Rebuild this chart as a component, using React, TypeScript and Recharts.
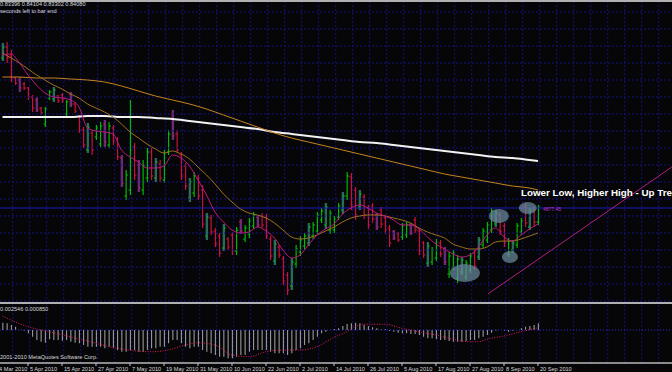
import React from "react";
import { ComposedChart, Bar, Line, XAxis, YAxis, ReferenceLine, ReferenceDot } from "recharts";

// ---------- data (daily bars, 24 Mar 2010 .. 20 Sep 2010) ----------
const highs = [
  1.007, 1.008, 1.0, 0.973, 0.973, 0.968, 0.963, 0.955, 0.953, 0.943,
  0.943, 0.96, 0.963, 0.955, 0.957, 0.95, 0.958, 0.948, 0.935, 0.923,
  0.927, 0.92, 0.925, 0.928, 0.93, 0.928, 0.925, 0.913, 0.895, 0.88,
  0.95, 0.907, 0.89, 0.89, 0.902, 0.902, 0.892, 0.89, 0.9, 0.92,
  0.94, 0.92, 0.898, 0.887, 0.872, 0.878, 0.875, 0.865, 0.837, 0.835,
  0.822, 0.817, 0.826, 0.813, 0.818, 0.823, 0.831, 0.825, 0.832, 0.838,
  0.835, 0.837, 0.836, 0.814, 0.81, 0.805, 0.794, 0.778, 0.792, 0.805,
  0.814, 0.817, 0.827, 0.828, 0.838, 0.842, 0.847, 0.84, 0.834, 0.847,
  0.858, 0.878, 0.877, 0.863, 0.86, 0.856, 0.845, 0.847, 0.837, 0.843,
  0.835, 0.825, 0.82, 0.818, 0.827, 0.828, 0.827, 0.833, 0.822, 0.809,
  0.808, 0.803, 0.811, 0.81, 0.803, 0.798, 0.8, 0.795, 0.793, 0.79,
  0.797, 0.8, 0.813, 0.822, 0.828, 0.842, 0.84, 0.838, 0.827, 0.812,
  0.81, 0.827, 0.832, 0.847, 0.842, 0.843, 0.845,
];
const lows = [
  0.989, 0.987, 0.968, 0.965, 0.958, 0.96, 0.95, 0.938, 0.938, 0.935,
  0.923, 0.95, 0.948, 0.947, 0.947, 0.933, 0.943, 0.937, 0.917, 0.902,
  0.897, 0.895, 0.91, 0.903, 0.903, 0.902, 0.905, 0.89, 0.863, 0.85,
  0.855, 0.87, 0.858, 0.855, 0.868, 0.87, 0.868, 0.868, 0.867, 0.895,
  0.91, 0.897, 0.87, 0.86, 0.848, 0.853, 0.85, 0.822, 0.81, 0.815,
  0.803, 0.793, 0.799, 0.8, 0.795, 0.795, 0.816, 0.808, 0.812, 0.821,
  0.823, 0.822, 0.811, 0.79, 0.785, 0.792, 0.765, 0.755, 0.76, 0.782,
  0.794, 0.801, 0.804, 0.811, 0.816, 0.827, 0.821, 0.816, 0.817, 0.83,
  0.836, 0.85, 0.84, 0.83, 0.84, 0.831, 0.821, 0.827, 0.82, 0.822,
  0.816, 0.803, 0.81, 0.808, 0.81, 0.812, 0.815, 0.817, 0.795, 0.792,
  0.783, 0.785, 0.789, 0.793, 0.785, 0.772, 0.78, 0.767, 0.775, 0.77,
  0.777, 0.78, 0.79, 0.802, 0.807, 0.817, 0.823, 0.815, 0.803, 0.793,
  0.797, 0.802, 0.815, 0.823, 0.82, 0.823, 0.825,
];
const opens = [
  0.992, 1.003, 0.994, 0.972, 0.97, 0.966, 0.962, 0.953, 0.95, 0.942,
  0.926, 0.952, 0.951, 0.954, 0.955, 0.936, 0.956, 0.946, 0.933, 0.92,
  0.9, 0.917, 0.913, 0.906, 0.926, 0.905, 0.922, 0.911, 0.892, 0.854,
  0.86, 0.903, 0.885, 0.86, 0.872, 0.898, 0.872, 0.886, 0.87, 0.898,
  0.936, 0.916, 0.895, 0.884, 0.852, 0.857, 0.872, 0.86, 0.814, 0.832,
  0.819, 0.814, 0.802, 0.811, 0.815, 0.799, 0.828, 0.811, 0.816, 0.824,
  0.833, 0.834, 0.833, 0.811, 0.789, 0.803, 0.791, 0.775, 0.764, 0.786,
  0.798, 0.804, 0.807, 0.814, 0.819, 0.83, 0.825, 0.82, 0.82, 0.833,
  0.84, 0.854, 0.873, 0.86, 0.843, 0.853, 0.842, 0.844, 0.835, 0.84,
  0.832, 0.822, 0.818, 0.816, 0.813, 0.815, 0.825, 0.83, 0.819, 0.807,
  0.787, 0.788, 0.792, 0.807, 0.8, 0.776, 0.783, 0.771, 0.778, 0.773,
  0.78, 0.797, 0.793, 0.805, 0.81, 0.82, 0.826, 0.835, 0.824, 0.796,
  0.8, 0.805, 0.818, 0.844, 0.823, 0.84, 0.828,
];
const closes = [
  1.003, 0.992, 0.972, 0.967, 0.962, 0.962, 0.953, 0.942, 0.94, 0.937,
  0.941, 0.958, 0.96, 0.949, 0.95, 0.948, 0.946, 0.939, 0.92, 0.905,
  0.923, 0.9, 0.922, 0.924, 0.908, 0.924, 0.909, 0.893, 0.867, 0.875,
  0.9, 0.875, 0.862, 0.884, 0.898, 0.874, 0.888, 0.872, 0.896, 0.916,
  0.914, 0.9, 0.874, 0.864, 0.868, 0.874, 0.854, 0.826, 0.833, 0.818,
  0.806, 0.797, 0.822, 0.803, 0.799, 0.82, 0.819, 0.822, 0.829, 0.835,
  0.825, 0.825, 0.814, 0.794, 0.806, 0.795, 0.769, 0.76, 0.788, 0.801,
  0.81, 0.814, 0.823, 0.825, 0.835, 0.839, 0.843, 0.837, 0.831, 0.844,
  0.854, 0.874, 0.845, 0.835, 0.856, 0.835, 0.825, 0.831, 0.823, 0.826,
  0.82, 0.807, 0.812, 0.81, 0.824, 0.825, 0.817, 0.82, 0.799, 0.795,
  0.804, 0.8, 0.808, 0.796, 0.788, 0.794, 0.797, 0.791, 0.79, 0.787,
  0.794, 0.784, 0.81, 0.819, 0.825, 0.839, 0.837, 0.819, 0.807, 0.809,
  0.807, 0.824, 0.829, 0.827, 0.839, 0.828, 0.843,
];

// moving averages read at sampled bars: [barIndex, value]
const maShort: [number, number][] = [
  [0, 0.995], [2, 0.996], [4, 0.987], [6, 0.975], [8, 0.965], [10, 0.957], [12, 0.953], [14, 0.952],
  [16, 0.95], [18, 0.943], [20, 0.922], [22, 0.919], [24, 0.918], [26, 0.916], [28, 0.9], [30, 0.893],
  [32, 0.888], [34, 0.882], [36, 0.882], [38, 0.884], [40, 0.895], [42, 0.892], [44, 0.884], [46, 0.87],
  [48, 0.855], [50, 0.838], [52, 0.828], [54, 0.82], [56, 0.817], [58, 0.818], [60, 0.823], [62, 0.819],
  [64, 0.812], [66, 0.8], [68, 0.792], [70, 0.795], [72, 0.805], [74, 0.815], [76, 0.821], [78, 0.826],
  [80, 0.836], [82, 0.842], [84, 0.845], [86, 0.842], [88, 0.837], [90, 0.834], [92, 0.83], [94, 0.825],
  [96, 0.825], [98, 0.821], [100, 0.813], [102, 0.806], [104, 0.801], [106, 0.796], [108, 0.793], [110, 0.795],
  [112, 0.803], [114, 0.815], [116, 0.822], [118, 0.813], [120, 0.809], [122, 0.815], [124, 0.821], [126, 0.826],
];
const maMid: [number, number][] = [
  [0, 0.997], [2, 0.992], [4, 0.987], [6, 0.981], [8, 0.975], [10, 0.97], [12, 0.965], [14, 0.961],
  [16, 0.956], [18, 0.952], [20, 0.946], [22, 0.942], [24, 0.938], [26, 0.933], [28, 0.926], [30, 0.918],
  [32, 0.912], [34, 0.906], [36, 0.901], [38, 0.897], [40, 0.899], [42, 0.896], [44, 0.891], [46, 0.883],
  [48, 0.875], [50, 0.866], [52, 0.856], [54, 0.848], [56, 0.841], [58, 0.837], [60, 0.835], [62, 0.832],
  [64, 0.827], [66, 0.82], [68, 0.813], [70, 0.811], [72, 0.812], [74, 0.815], [76, 0.819], [78, 0.823],
  [80, 0.828], [82, 0.832], [84, 0.834], [86, 0.835], [88, 0.835], [90, 0.834], [92, 0.832], [94, 0.83],
  [96, 0.827], [98, 0.822], [100, 0.818], [102, 0.815], [104, 0.812], [106, 0.806], [108, 0.803], [110, 0.801],
  [112, 0.801], [114, 0.803], [116, 0.808], [118, 0.809], [120, 0.809], [122, 0.811], [124, 0.814], [126, 0.817],
];
const maLong: [number, number][] = [
  [0, 0.973], [4, 0.973], [8, 0.972], [12, 0.972], [16, 0.971], [20, 0.97], [24, 0.968], [28, 0.964],
  [32, 0.959], [36, 0.954], [40, 0.95], [44, 0.946], [48, 0.941], [52, 0.935], [56, 0.929], [60, 0.923],
  [64, 0.917], [68, 0.912], [72, 0.908], [76, 0.904], [80, 0.9], [84, 0.896], [88, 0.892], [92, 0.888],
  [96, 0.884], [100, 0.88], [104, 0.876], [108, 0.873], [112, 0.87], [116, 0.867], [120, 0.864], [124, 0.862],
  [126, 0.86],
];
const maWhite: [number, number][] = [
  [0, 0.933], [4, 0.933], [8, 0.933], [12, 0.933], [16, 0.933], [20, 0.934], [24, 0.934], [28, 0.933],
  [32, 0.933], [36, 0.932], [40, 0.931], [44, 0.929], [48, 0.927], [52, 0.925], [56, 0.923], [60, 0.921],
  [64, 0.918], [68, 0.916], [72, 0.914], [76, 0.912], [80, 0.91], [84, 0.908], [88, 0.907], [92, 0.905],
  [96, 0.903], [100, 0.901], [104, 0.899], [108, 0.897], [112, 0.895], [116, 0.893], [120, 0.892], [124, 0.89],
  [126, 0.889],
];

// MACD sub-window
const macdHist = [
  0.0029, 0.0027, 0.002, 0.0013, 0.0001, -0.0003, -0.0013, -0.0027, -0.004, -0.0047,
  -0.0051, -0.0037, -0.004, -0.004, -0.0043, -0.004, -0.0047, -0.0051, -0.0053, -0.006,
  -0.0067, -0.0067, -0.0067, -0.0067, -0.0073, -0.0067, -0.0073, -0.008, -0.0087, -0.0087,
  -0.008, -0.008, -0.0087, -0.0087, -0.008, -0.0073, -0.0073, -0.0067, -0.0067, -0.0053,
  -0.004, -0.004, -0.0053, -0.0067, -0.0073, -0.0067, -0.0067, -0.008, -0.0087, -0.0093,
  -0.01, -0.0107, -0.0107, -0.0113, -0.0113, -0.0107, -0.01, -0.01, -0.0087, -0.008,
  -0.008, -0.008, -0.008, -0.0087, -0.0093, -0.0093, -0.0093, -0.01, -0.0093, -0.008,
  -0.0073, -0.006, -0.0053, -0.004, -0.0027, -0.0013, -0.0007, 0.0, 0.0004, 0.0007,
  0.0016, 0.0024, 0.0027, 0.0029, 0.0027, 0.002, 0.0016, 0.0011, 0.0007, 0.0003,
  0.0003, -0.0003, -0.0007, -0.0011, -0.0013, -0.0013, -0.0016, -0.0016, -0.002, -0.0027,
  -0.0033, -0.0033, -0.0037, -0.004, -0.004, -0.0044, -0.0047, -0.0047, -0.0047, -0.0044,
  -0.004, -0.004, -0.0033, -0.0027, -0.002, -0.0011, -0.0003, 0.0, -0.0003, -0.0007,
  -0.0003, 0.0, 0.0007, 0.0013, 0.0016, 0.002, 0.0027,
];
const macdSignal: [number, number][] = [
  [0, 0.0056], [6, 0.0013], [11, -0.0007], [19, -0.004], [27, -0.0073], [35, -0.0087], [39, -0.008],
  [43, -0.006], [46, -0.0051], [50, -0.006], [54, -0.01], [58, -0.0107], [62, -0.0087], [66, -0.008],
  [70, -0.008], [74, -0.0067], [78, -0.0029], [81, -0.0007], [83, 0.0013], [85, 0.0023], [90, 0.0023],
  [94, 0.0007], [98, -0.0007], [102, -0.002], [106, -0.0037], [110, -0.0047], [112, -0.0047],
  [114, -0.0037], [118, -0.0024], [122, -0.0007], [126, 0.0009],
];

const dateTickIdx = [-2, 6, 14, 22, 30, 38, 46, 54, 62, 70, 78, 86, 94, 102, 110, 118, 126];
const dateTickLabels = [
  "24 Mar 2010", "5 Apr 2010", "15 Apr 2010", "27 Apr 2010", "7 May 2010", "19 May 2010",
  "31 May 2010", "10 Jun 2010", "22 Jun 2010", "2 Jul 2010", "14 Jul 2010", "26 Jul 2010",
  "5 Aug 2010", "17 Aug 2010", "27 Aug 2010", "8 Sep 2010", "20 Sep 2010",
];
const priceGrid = [
  1.038, 1.021, 1.004, 0.987, 0.97, 0.953, 0.936, 0.919, 0.902, 0.885, 0.868, 0.851, 0.834, 0.817,
  0.8, 0.783, 0.766, 0.749,
];
const hLine = 0.842;
const trendLine = [
  { x: 114.2, y: 0.756 },
  { x: 157.5, y: 0.883 },
];
const ellipses = [
  { i: 108.8, p: 0.777, rx: 15, ry: 9 },
  { i: 119.4, p: 0.793, rx: 8, ry: 6 },
  { i: 116.8, p: 0.834, rx: 10, ry: 7 },
  { i: 123.6, p: 0.842, rx: 9, ry: 6 },
];

// ---------- build tables ----------
const lookup = (pts: [number, number][]) => {
  const m = new Map<number, number>();
  pts.forEach(([k, v]) => m.set(k, v));
  return m;
};
const mS = lookup(maShort), mM = lookup(maMid), mL = lookup(maLong), mW = lookup(maWhite), sg = lookup(macdSignal);

const rows = highs.map((h, i) => ({
  i,
  range: [lows[i], h],
  o: opens[i], h, l: lows[i], c: closes[i],
  maS: mS.has(i) ? mS.get(i) : null,
  maM: mM.has(i) ? mM.get(i) : null,
  maL: mL.has(i) ? mL.get(i) : null,
  maW: mW.has(i) ? mW.get(i) : null,
  hist: macdHist[i],
  sig: sg.has(i) ? sg.get(i) : null,
}));

const X_DOMAIN: [number, number] = [-0.588, 157.53];
const vGrid: number[] = [];
for (let g = 2.4; g < 158; g += 4) vGrid.push(g);

const GRID = "#12127a";
const FONT = "'Liberation Sans', Arial, sans-serif";

const OhlcShape = (props: any) => {
  const { x, y, width, height, payload } = props;
  if (payload == null || !isFinite(y)) return null;
  const { o, h, l, c, i } = payload;
  const top = Math.min(y, y + height);
  const hh = Math.abs(height);
  const cx = x + width / 2;
  const span = h - l || 1;
  const py = (v: number) => top + ((h - v) / span) * hh;
  const up = c >= o;
  const onGrid = i % 4 === 0;
  const col = onGrid ? (up ? "#2a6a5c" : "#6a2a78") : up ? "#00c800" : "#d8143c";
  const tick = up ? "#00c800" : "#d8143c";
  return (
    <g>
      <line x1={cx} x2={cx} y1={top} y2={top + hh} stroke={col} strokeWidth={onGrid ? 2.4 : 1.1} />
      <line x1={cx - 1.8} x2={cx} y1={py(o)} y2={py(o)} stroke={tick} strokeWidth={1} />
      <line x1={cx} x2={cx + 1.8} y1={py(c)} y2={py(c)} stroke={tick} strokeWidth={1} />
    </g>
  );
};

const HistShape = (props: any) => {
  const { x, y, width, height } = props;
  if (!isFinite(y)) return null;
  const cx = x + width / 2;
  return <line x1={cx} x2={cx} y1={y} y2={y + height} stroke="#a8a8a8" strokeWidth={1} />;
};

const EllipseShape = (rx: number, ry: number) => (props: any) => (
  <ellipse cx={props.cx} cy={props.cy} rx={rx} ry={ry} fill="#6a8a9c" fillOpacity={0.72} />
);

const DateTick = (props: any) => {
  const { x, y, payload } = props;
  const k = dateTickIdx.indexOf(payload.value);
  return (
    <g>
      <line x1={x} x2={x} y1={y} y2={y + 3} stroke="#c8c8c8" strokeWidth={1} />
      <text x={x + 2} y={y + 8} fontSize={5.6} fill="#d8d8d8" fontFamily={FONT}>
        {k >= 0 ? dateTickLabels[k] : ""}
      </text>
    </g>
  );
};

const txt = (left: number, top: number, s: string, extra: any = {}) => (
  <div
    style={{
      position: "absolute", left, top, fontFamily: FONT, fontSize: 5.6, color: "#d8d8d8",
      whiteSpace: "nowrap", lineHeight: 1, ...extra,
    }}
  >
    {s}
  </div>
);

export default function App() {
  return (
    <div style={{ position: "relative", width: 672, height: 372, background: "#060608", overflow: "hidden" }}>
      <style>{"body{margin:0;background:#000}"}</style>
      <div style={{ position: "absolute", left: 0, top: 0 }}>
        <ComposedChart width={672} height={303} data={rows} margin={{ top: 0, right: 0, bottom: 0, left: 0 }}>
          <XAxis dataKey="i" type="number" domain={X_DOMAIN} allowDataOverflow hide />
          <YAxis type="number" domain={[0.747, 1.05]} allowDataOverflow hide />
          {priceGrid.map((p) => (
            <ReferenceLine key={"h" + p} y={p} stroke={GRID} strokeDasharray="2 2" ifOverflow="extendDomain" />
          ))}
          {vGrid.map((g) => (
            <ReferenceLine key={"v" + g} x={g} stroke={GRID} strokeDasharray="2 2" />
          ))}
          <ReferenceLine y={hLine} stroke="#1a1ab8" strokeWidth={1} />
          <Line dataKey="maW" stroke="#f2f2f2" strokeWidth={2} dot={false} connectNulls type="monotone" isAnimationActive={false} />
          <Line dataKey="maL" stroke="#c4841e" strokeWidth={1} dot={false} connectNulls type="monotone" isAnimationActive={false} />
          <Line dataKey="maM" stroke="#a0701e" strokeWidth={1} dot={false} connectNulls type="monotone" isAnimationActive={false} />
          <Bar dataKey="range" barSize={3} shape={<OhlcShape />} isAnimationActive={false} />
          <Line dataKey="maS" stroke="#c0187e" strokeWidth={1} dot={false} connectNulls type="monotone" isAnimationActive={false} />
          <ReferenceLine segment={trendLine} stroke="#b0207e" strokeWidth={1} ifOverflow="visible" />
          {ellipses.map((e, k) => (
            <ReferenceDot key={"e" + k} x={e.i} y={e.p} r={1} shape={EllipseShape(e.rx, e.ry)} ifOverflow="visible" />
          ))}
        </ComposedChart>
      </div>
      <div style={{ position: "absolute", left: 0, top: 303 }}>
        <ComposedChart width={672} height={69} data={rows} margin={{ top: 0, right: 0, bottom: 0, left: 0 }}>
          <XAxis
            dataKey="i" type="number" domain={X_DOMAIN} allowDataOverflow ticks={dateTickIdx}
            interval={0} height={9} tickSize={0} tickMargin={0} axisLine={{ stroke: "#b8b8b8", strokeWidth: 1.5 }}
            tickLine={false} tick={<DateTick />}
          />
          <YAxis type="number" domain={[-0.0132, 0.0108]} allowDataOverflow hide />
          {vGrid.map((g) => (
            <ReferenceLine key={"sv" + g} x={g} stroke={GRID} strokeDasharray="2 2" />
          ))}
          <Bar dataKey="hist" barSize={1} shape={<HistShape />} isAnimationActive={false} />
          <ReferenceLine y={0} stroke="#2a2ad0" strokeDasharray="1 2" />
          <Line dataKey="sig" stroke="#e0204c" strokeWidth={1} strokeDasharray="1 1.5" dot={false} connectNulls type="monotone" isAnimationActive={false} />
        </ComposedChart>
      </div>
      {/* window frames */}
      <div style={{ position: "absolute", left: 0, top: 0, width: 672, height: 1.5, background: "#b0b0b0" }} />
      <div style={{ position: "absolute", left: 0, top: 302, width: 672, height: 1.5, background: "#b0b0b0" }} />
      {txt(0, 2, "0.83396 0.84104 0.83302 0.84080")}
      {txt(0, 9, "seconds left to bar end")}
      {txt(0, 306.5, "0.002546 0.000850")}
      {txt(0, 354.5, "2001-2010 MetaQuotes Software Corp.")}
      {txt(521, 188, "Lower Low, Higher High - Up Trend", { fontSize: 9.8, fontWeight: 700, color: "#ffffff" })}
      {txt(543, 206.5, "4877.45", { color: "#c030c0", fontSize: 5 })}
    </div>
  );
}
